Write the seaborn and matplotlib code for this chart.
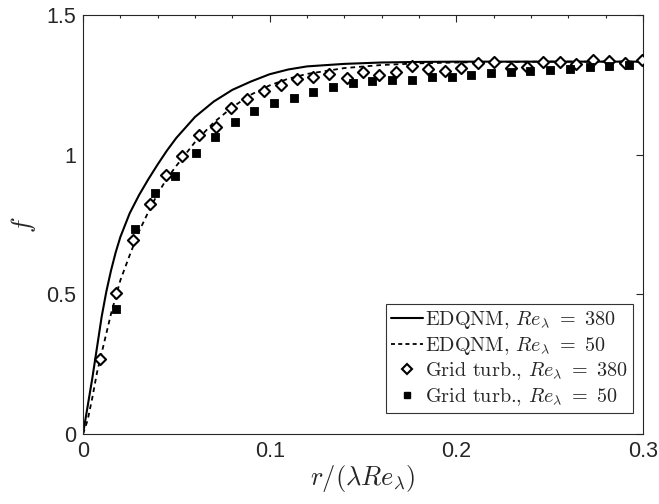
import numpy as np
import pandas as pd
import matplotlib
matplotlib.use("Agg")
import matplotlib.pyplot as plt
from matplotlib.ticker import MultipleLocator, FormatStrFormatter
from matplotlib.lines import Line2D
import seaborn as sns

# EDQNM model curves f(r / (lambda Re_lambda))
x_model = [0, 0.0025, 0.005, 0.0075, 0.01, 0.0125, 0.015, 0.0175, 0.02, 0.025,
           0.03, 0.035, 0.04, 0.045, 0.05, 0.06, 0.07, 0.08, 0.09, 0.10,
           0.11, 0.12, 0.14, 0.16, 0.18, 0.20, 0.22, 0.25, 0.30]
f_edqnm_380 = [0, 0.10, 0.20, 0.31, 0.42, 0.51, 0.585, 0.65, 0.705, 0.79,
               0.855, 0.912, 0.965, 1.015, 1.06, 1.135, 1.19, 1.232, 1.262, 1.288,
               1.305, 1.316, 1.325, 1.330, 1.332, 1.333, 1.333, 1.333, 1.333]
f_edqnm_50 = [0, 0.05, 0.13, 0.22, 0.29, 0.36, 0.43, 0.49, 0.55, 0.64,
              0.725, 0.795, 0.86, 0.915, 0.96, 1.045, 1.115, 1.17, 1.215, 1.248,
              1.272, 1.289, 1.31, 1.321, 1.327, 1.330, 1.332, 1.333, 1.333]

# Grid turbulence measurements, Re_lambda = 380
x_grid_380 = [0.0093, 0.0178, 0.0266, 0.0358, 0.0444, 0.0532, 0.0621, 0.0712, 0.0793,
              0.0879, 0.0970, 0.1061, 0.1145, 0.1234, 0.1318, 0.1413, 0.1498, 0.1588,
              0.1675, 0.1764, 0.1850, 0.1939, 0.2027, 0.2114, 0.2202, 0.2291, 0.2377,
              0.2466, 0.2555, 0.2641, 0.2730, 0.2819, 0.2903, 0.2995]
f_grid_380 = [0.268, 0.506, 0.696, 0.822, 0.927, 0.994, 1.072, 1.099, 1.168,
              1.200, 1.228, 1.250, 1.271, 1.277, 1.288, 1.276, 1.297, 1.285,
              1.297, 1.316, 1.307, 1.301, 1.310, 1.327, 1.333, 1.311, 1.315,
              1.331, 1.330, 1.324, 1.339, 1.337, 1.328, 1.338]

# Grid turbulence measurements, Re_lambda = 50
x_grid_50 = [0.0175, 0.0280, 0.0384, 0.0494, 0.0604, 0.0707, 0.0813, 0.0916, 0.1023,
             0.1129, 0.1234, 0.1338, 0.1445, 0.1550, 0.1655, 0.1762, 0.1870, 0.1975,
             0.2080, 0.2186, 0.2291, 0.2396, 0.2502, 0.2609, 0.2714, 0.2819, 0.2925]
f_grid_50 = [0.446, 0.734, 0.862, 0.925, 1.006, 1.062, 1.118, 1.158, 1.185,
             1.202, 1.223, 1.241, 1.258, 1.264, 1.266, 1.268, 1.277, 1.278,
             1.286, 1.293, 1.296, 1.301, 1.304, 1.308, 1.313, 1.316, 1.322]

labels = [r"EDQNM, $Re_\lambda\ =\ 380$",
          r"EDQNM, $Re_\lambda\ =\ 50$",
          r"Grid turb., $Re_\lambda\ =\ 380$",
          r"Grid turb., $Re_\lambda\ =\ 50$"]

sns.set_theme(style="white")
plt.rcParams["font.family"] = ["Liberation Sans", "DejaVu Sans"]
plt.rcParams["mathtext.fontset"] = "cm"

axis_col = "#262626"
dash = (0, (2.6, 2.2))

fig = plt.figure(figsize=(6.59, 5.04), dpi=100)
ax = fig.add_axes([83 / 659, 1 - 434 / 504, 560 / 659, 419 / 504])

model = pd.DataFrame({"x": x_model, "f380": f_edqnm_380, "f50": f_edqnm_50})
g380 = pd.DataFrame({"x": x_grid_380, "f": f_grid_380})
g50 = pd.DataFrame({"x": x_grid_50, "f": f_grid_50})

sns.lineplot(data=model, x="x", y="f380", ax=ax, color="black", lw=1.5,
             estimator=None, sort=False)
sns.lineplot(data=model, x="x", y="f50", ax=ax, color="black", lw=1.3,
             estimator=None, sort=False, linestyle=dash)
sns.scatterplot(data=g380, x="x", y="f", ax=ax, marker="D", s=32,
                facecolor="white", edgecolor="black", linewidth=1.5, zorder=3)
sns.scatterplot(data=g50, x="x", y="f", ax=ax, marker="s", s=30,
                color="black", edgecolor="black", linewidth=0.6, zorder=3)

ax.set_xlim(0, 0.3)
ax.set_ylim(0, 1.5)
ax.xaxis.set_major_locator(MultipleLocator(0.1))
ax.xaxis.set_minor_locator(MultipleLocator(0.02))
ax.yaxis.set_major_locator(MultipleLocator(0.5))
ax.xaxis.set_major_formatter(FormatStrFormatter("%g"))
ax.yaxis.set_major_formatter(FormatStrFormatter("%g"))
ax.tick_params(which="both", direction="in", top=True, right=True,
               colors=axis_col, width=0.8)
ax.tick_params(which="major", length=5, labelsize=15.5, pad=5)
ax.tick_params(which="minor", length=2.5)
for sp in ax.spines.values():
    sp.set_color(axis_col)
    sp.set_linewidth(0.8)

ax.set_xlabel(r"$r/(\lambda Re_\lambda)$", fontsize=19, color=axis_col, labelpad=1)
ax.set_ylabel(r"$f$", fontsize=19, color=axis_col, labelpad=6)

handles = [
    Line2D([], [], color="black", lw=1.5),
    Line2D([], [], color="black", lw=1.3, linestyle=(0, (2.2, 1.8))),
    Line2D([], [], marker="D", ls="none", markersize=5, markerfacecolor="white",
           markeredgecolor="black", markeredgewidth=1.5),
    Line2D([], [], marker="s", ls="none", markersize=5, color="black"),
]
leg = ax.legend(handles, labels, loc="lower right", bbox_to_anchor=(0.982, 0.05),
                prop={"family": ["cmr10"], "size": 14.5}, frameon=True,
                fancybox=False, handlelength=1.6, handletextpad=0.1,
                borderpad=0.25, labelspacing=0.2, borderaxespad=0)
leg.get_frame().set_edgecolor("black")
leg.get_frame().set_linewidth(0.8)

fig.savefig("out.png", dpi=100, facecolor="white")
